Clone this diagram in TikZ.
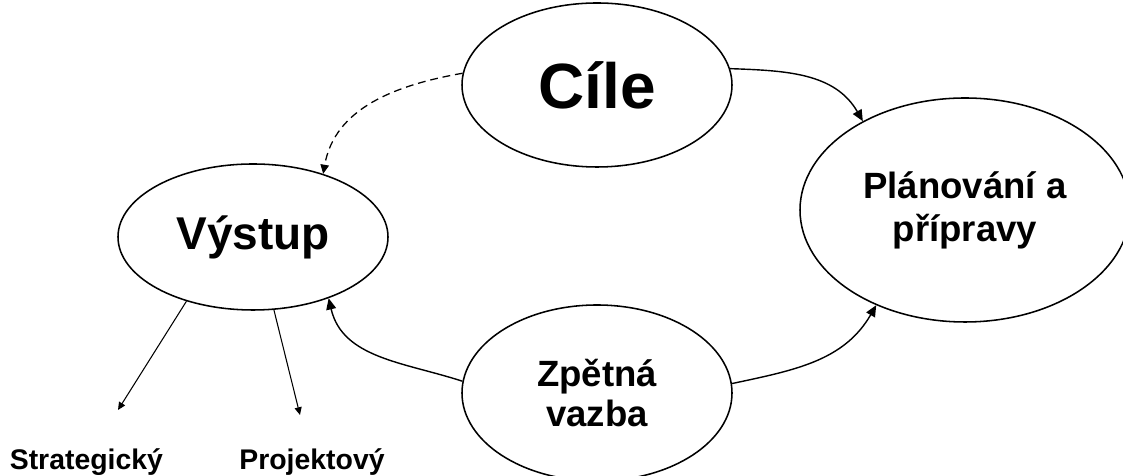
\documentclass[tikz,border=0pt]{standalone}
\usepackage{fontspec}
\setmainfont{Liberation Sans}
\usetikzlibrary{arrows.meta,positioning,shapes.geometric}

\begin{document}
\begin{tikzpicture}[
  every node/.style={font=\bfseries},
  phasenode/.style={draw,ellipse,line width=1.1pt,inner sep=0pt,align=center},
  flowarrow/.style={-{Triangle[length=8pt,width=7pt]},line width=1pt},
  outarrow/.style={-{Triangle[length=5.5pt,width=5pt]},line width=0.75pt},
]
  \useasboundingbox (0,0) rectangle (28.075,11.9);

  % Cycle
  \node[phasenode,minimum width=6.75cm,minimum height=4.1cm,
        font=\fontsize{45.5}{50}\selectfont\bfseries] (cile) at (14.925,9.775) {Cíle};
  \node[phasenode,minimum width=8.25cm,minimum height=5.6cm,
        font=\fontsize{26}{30.6}\selectfont\bfseries] (plan) at (24.125,6.65) {Plánování a\\přípravy};
  \node[phasenode,minimum width=6.75cm,minimum height=4.4cm,
        font=\fontsize{26}{28.5}\selectfont\bfseries] (zpet) at (14.925,2.075) {Zpětná\\vazba};
  \node[phasenode,minimum width=6.75cm,minimum height=3.65cm,
        font=\fontsize{32.7}{36}\selectfont\bfseries] (vystup) at (6.325,5.975) {Výstup};

  % Outputs
  \node[font=\fontsize{20.2}{24}\selectfont\bfseries,anchor=base] (strat) at (2.16,0.15) {Strategický};
  \node[font=\fontsize{20.2}{24}\selectfont\bfseries,anchor=base] (proj) at (7.8,0.15) {Projektový};
  \coordinate (stratend) at (2.95,1.65);
  \coordinate (projend) at (7.5,1.525);

  % Arrows
  \draw[flowarrow] (cile.7) to[out=-2,in=120] (plan.139);
  \draw[flowarrow] (zpet.4) to[out=12,in=240] (plan.227);
  \draw[flowarrow] (zpet.175) to[out=162,in=-77] (vystup.-39);
  \draw[flowarrow,line width=0.9pt,dash pattern=on 5.5pt off 3.5pt,
        -{Triangle[length=6.5pt,width=6pt]}] (cile.175) to[out=190,in=80] (vystup.42);
  \draw[outarrow] (vystup.224) -- (stratend);
  \draw[outarrow] (vystup.286) -- (projend);
\end{tikzpicture}
\end{document}
